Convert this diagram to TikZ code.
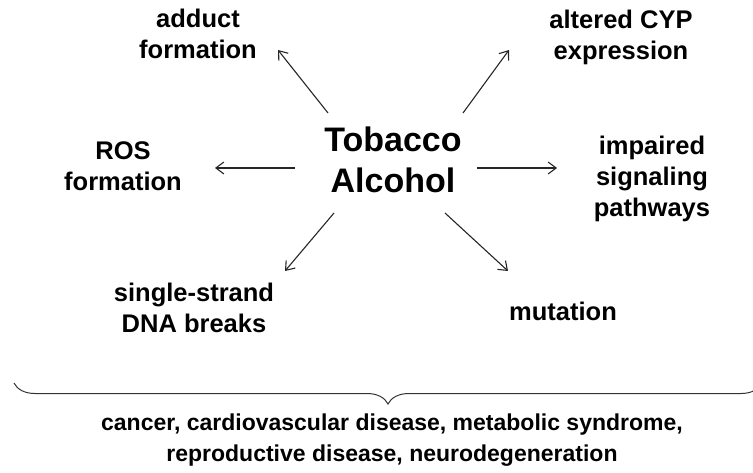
\documentclass[tikz,border=0pt]{standalone}
\usepackage{fontspec}
\setmainfont{Liberation Sans}
\usetikzlibrary{arrows.meta, positioning, calc, decorations.pathreplacing}

\tikzset{
  lbl/.style={font=\bfseries\fontsize{25.5}{31}\selectfont, align=center, inner sep=0pt},
  outcome/.style={font=\bfseries\fontsize{23}{31}\selectfont, align=center, inner sep=0pt},
  core/.style={font=\bfseries\fontsize{34}{41}\selectfont, align=center, inner sep=0pt},
  arr/.style={-{Straight Barb[length=8pt,width=12pt]}, line width=1.1pt, black!85},
}

\begin{document}
\begin{tikzpicture}[x=1pt, y=-1pt]
  \useasboundingbox (0,0) rectangle (753,473);

  % center
  \node[core] (exposure) at (393,160) {Tobacco\\Alcohol};

  % effects
  \node[lbl] (adduct) at (198,34) {adduct\\formation};
  \node[lbl] (cyp) at (621,37) {altered CYP\\expression};
  \node[lbl] (ros) at (123,166) {ROS\\formation};
  \node[lbl] (signal) at (652,179) {impaired\\signaling\\pathways};
  \node[lbl] (ssb) at (194,308) {single-strand\\DNA breaks};
  \node[lbl, anchor=base] (mut) at (563,320) {mutation};

  % arrow ends
  \coordinate (adduct-s) at (328,113);
  \coordinate (adduct-e) at (278,50);
  \coordinate (cyp-s) at (463,113);
  \coordinate (cyp-e) at (509,50);
  \coordinate (ros-s) at (295,168);
  \coordinate (ros-e) at (215,168);
  \coordinate (signal-s) at (477,168);
  \coordinate (signal-e) at (557,168);
  \coordinate (ssb-s) at (334,213);
  \coordinate (ssb-e) at (285,271);
  \coordinate (mut-s) at (445,213);
  \coordinate (mut-e) at (508,271);

  \draw[arr] (adduct-s) -- (adduct-e);
  \draw[arr] (cyp-s) -- (cyp-e);
  \draw[arr] (ros-s) -- (ros-e);
  \draw[arr] (signal-s) -- (signal-e);
  \draw[arr] (ssb-s) -- (ssb-e);
  \draw[arr] (mut-s) -- (mut-e);

  % brace and outcomes
  \coordinate (brace-l) at (14,383);
  \coordinate (brace-r) at (762,383);
  \draw[line width=1pt, black!80, decorate, decoration={brace, mirror, amplitude=21pt}] (brace-l) -- (brace-r);
  \node[outcome] (disease) at (392,440) {cancer, cardiovascular disease, metabolic syndrome,\\reproductive disease, neurodegeneration};
\end{tikzpicture}
\end{document}
